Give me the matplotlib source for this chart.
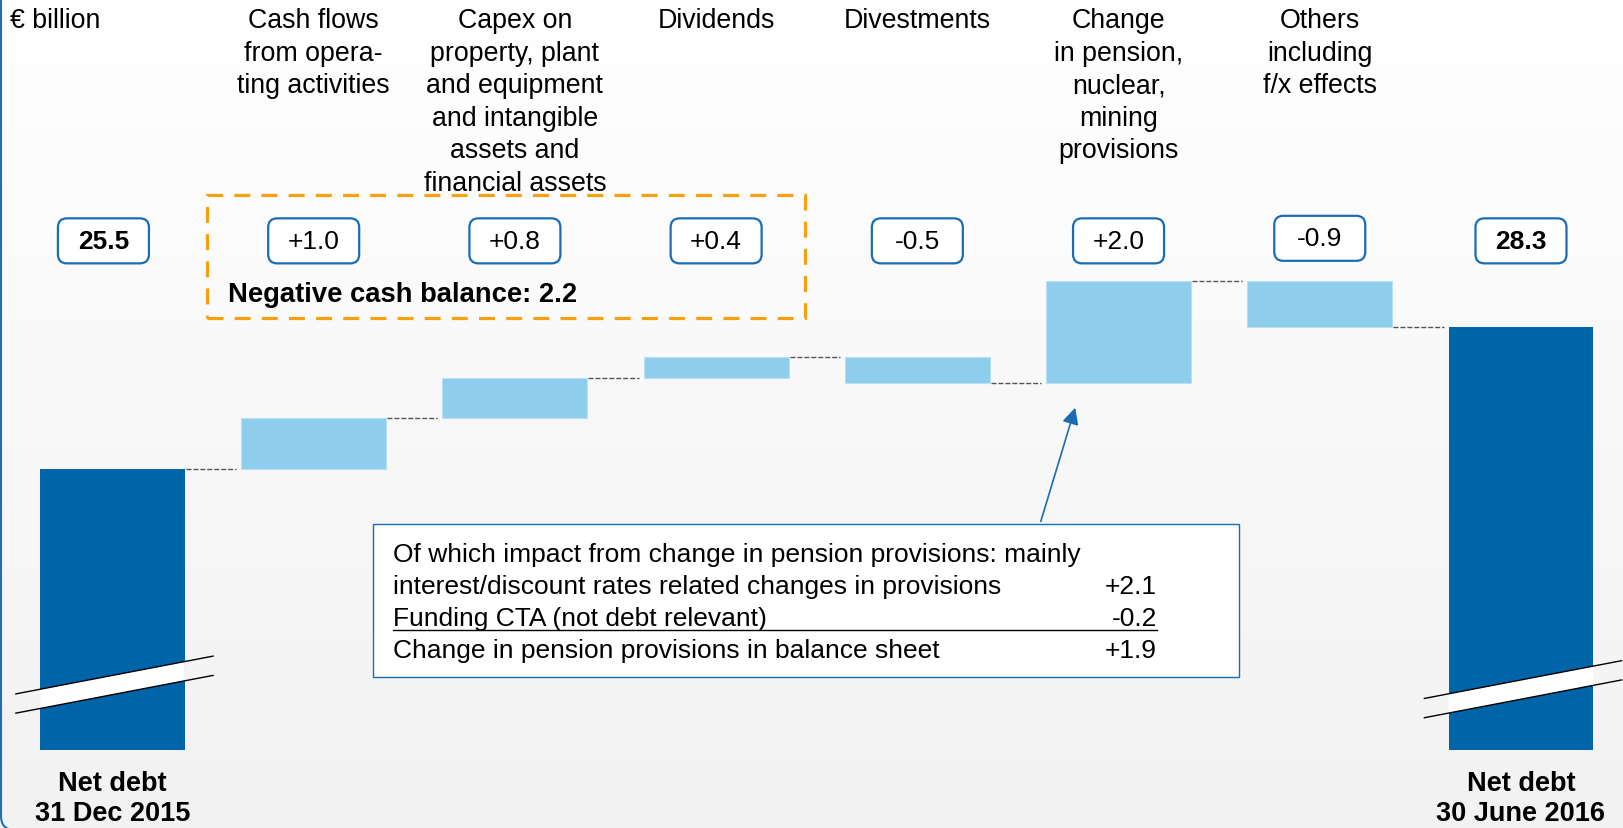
import numpy as np
import matplotlib
matplotlib.use("Agg")
import matplotlib.pyplot as plt
from matplotlib.patches import FancyBboxPatch, Rectangle, Polygon, FancyArrowPatch
from matplotlib.transforms import IdentityTransform

plt.rcParams['font.family'] = ['Liberation Sans', 'DejaVu Sans']

# data
start_value = 25.5
end_value = 28.3
deltas = [1.0, 0.8, 0.4, -0.5, 2.0, -0.9]
value_labels = ['25.5', '+1.0', '+0.8', '+0.4', '-0.5', '+2.0', '-0.9', '28.3']
header_labels = [
    '',
    'Cash flows\nfrom opera-\nting activities',
    'Capex on\nproperty, plant\nand equipment\nand intangible\nassets and\nfinancial assets',
    'Dividends',
    'Divestments',
    'Change\nin pension,\nnuclear,\nmining\nprovisions',
    'Others\nincluding\nf/x effects',
    '',
]
bottom_labels = ['Net debt\n31 Dec 2015', 'Net debt\n30 June 2016']
note_lines = [
    ('Of which impact from change in pension provisions: mainly', ''),
    ('interest/discount rates related changes in provisions', '+2.1'),
    ('Funding CTA (not debt relevant)', '-0.2'),
    ('Change in pension provisions in balance sheet', '+1.9'),
]
neg_cash_text = 'Negative cash balance: 2.2'
unit_text = '€ billion'
axis_base = 19.95  # broken axis baseline

DARK = '#0064a8'
LIGHT = '#8ecdec'
BOXBLUE = '#1a6db5'
ORANGE = '#f5a10f'

W, H = 1623, 829
fig = plt.figure(figsize=(W / 100, H / 100), dpi=100)
ax = fig.add_axes([0, 0, 1, 1])
ax.set_xlim(-0.559, 7.507)
ax.set_ylim(18.42, 34.77)
ax.axis('off')

# background gradient (white at top, light grey at bottom)
cmap = matplotlib.colors.LinearSegmentedColormap.from_list('bg', ['#f2f2f2', '#ffffff'])
ax.imshow(np.linspace(0.0, 1.0, 256).reshape(-1, 1), extent=(-0.559, 7.507, 18.42, 34.77),
          aspect='auto', cmap=cmap, origin='lower', zorder=0)


def ypx(p):
    return 1 - p / H


xt = ax.get_xaxis_transform()
bar_w = 0.72
n = len(value_labels)
xs = np.arange(n)

# waterfall
levels = start_value + np.concatenate([[0], np.cumsum(deltas)])
ax.bar(xs[0], start_value - axis_base, bottom=axis_base, width=bar_w, color=DARK, zorder=2)
ax.bar(xs[-1], end_value - axis_base, bottom=axis_base, width=bar_w, color=DARK, zorder=2)
for i, d in enumerate(deltas):
    lo = min(levels[i], levels[i + 1])
    ax.bar(xs[i + 1], abs(d), bottom=lo, width=bar_w, color=LIGHT,
           edgecolor='#b7e0f4', linewidth=0.8, zorder=2)

# connectors
for i in range(n - 1):
    lvl = end_value if i == n - 2 else levels[i]
    ax.plot([xs[i] + bar_w / 2 + 0.005, xs[i + 1] - bar_w / 2 - 0.025], [lvl, lvl],
            color='#555555', lw=1.0, ls=(0, (3.6, 1.4)), zorder=2)

# axis break marks
for xc, yc in ((xs[0], 21.24), (xs[-1], 21.15)):
    slope, half = 0.76, 0.19
    x0, x1 = xc - 0.48, xc + 0.5
    b0, b1 = xc - bar_w / 2, xc + bar_w / 2
    poly = Polygon([[b0, yc - half + slope * (b0 - xc)], [b1, yc - half + slope * (b1 - xc)],
                    [b1, yc + half + slope * (b1 - xc)], [b0, yc + half + slope * (b0 - xc)]],
                   closed=True, facecolor='white', edgecolor='none', zorder=3)
    ax.add_patch(poly)
    for s in (-half, half):
        ax.plot([x0, x1], [yc + s + slope * (x0 - xc), yc + s + slope * (x1 - xc)],
                color='black', lw=1.0, zorder=4)

# value boxes
bw, bh = 91 / 201.2, 45 / 50.7
for i, lab in enumerate(value_labels):
    yc = 30.0 + (0.05 if lab == '-0.9' else 0)
    xc = xs[i] - (0.045 if i == 0 else 0)
    box = FancyBboxPatch((xc - bw / 2, yc - bh / 2), bw, bh,
                         boxstyle='round,pad=0,rounding_size=0.045',
                         mutation_aspect=201.2 / 50.7,
                         facecolor='white', edgecolor=BOXBLUE, lw=1.6, zorder=3)
    ax.add_patch(box)
    bold = i in (0, n - 1)
    ax.text(xc, yc, lab, ha='center', va='center', fontsize=19,
            fontweight='bold' if bold else 'normal', zorder=4)

# headers
for i, lab in enumerate(header_labels):
    if lab:
        ax.text(xs[i], ypx(8), lab, transform=xt, ha='center', va='top',
                fontsize=19.3, linespacing=1.33)
ax.text(10 / W, ypx(8), unit_text, transform=ax.transAxes, ha='left', va='top', fontsize=19.3)

# bottom labels
for xc, lab in zip((xs[0], xs[-1]), bottom_labels):
    ax.text(xc, ypx(827), lab, transform=xt, ha='center', va='bottom',
            fontsize=19.5, fontweight='bold', linespacing=1.2)

# orange dashed box
ob = Rectangle((207 / W, ypx(319)), (805 - 207) / W, (319 - 196) / H, transform=ax.transAxes,
               fill=False, edgecolor=ORANGE, lw=2.3, ls=(0, (5, 3.5)), zorder=3)
ax.add_patch(ob)
ax.text(228 / W, ypx(295), neg_cash_text, transform=ax.transAxes, ha='left', va='center',
        fontsize=19.7, fontweight='bold')

# note box
nb = Rectangle((373 / W, ypx(678)), (1239 - 373) / W, (678 - 525) / H, transform=ax.transAxes,
               facecolor='white', edgecolor=BOXBLUE, lw=1.0, zorder=3)
ax.add_patch(nb)
for k, (txt, val) in enumerate(note_lines):
    yy = ypx(555 + 32 * k)
    ax.text(393 / W, yy, txt, transform=ax.transAxes, ha='left', va='center',
            fontsize=19, zorder=4)
    if val:
        ax.text(1157 / W, yy, val, transform=ax.transAxes, ha='right', va='center',
                fontsize=19, zorder=4)
ax.plot([393 / W, 1157 / W], [ypx(631), ypx(631)], transform=ax.transAxes,
        color='black', lw=1.0, zorder=4)

arrow = FancyArrowPatch((1040 / W, ypx(525)), (1076 / W, ypx(406)), transform=ax.transAxes,
                        arrowstyle='-|>,head_length=10,head_width=5', mutation_scale=1,
                        color=BOXBLUE, lw=1.2, zorder=4)
ax.add_patch(arrow)

# frame border
frame = FancyBboxPatch((1, -2), 3000, 3000, boxstyle='round,pad=0,rounding_size=14',
                       transform=IdentityTransform(), fill=False, edgecolor='#1f6fb5', lw=1.5)
fig.add_artist(frame)

fig.savefig('out.png', dpi=100)
